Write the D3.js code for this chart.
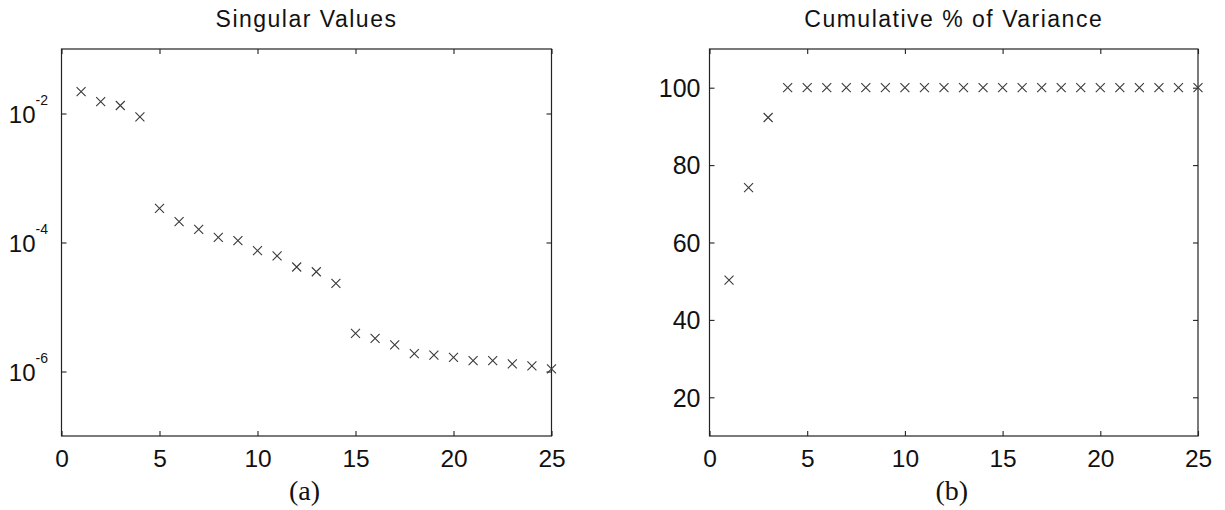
<!DOCTYPE html>
<html>
<head>
<meta charset="utf-8">
<script src="https://cdn.jsdelivr.net/npm/d3@7"></script>
<style>
  html, body { margin: 0; padding: 0; background: #fff; }
  svg { display: block; }
  text { font-family: "Liberation Sans", Arial, Helvetica, sans-serif; fill: #111; }
</style>
</head>
<body>
<svg id="chart" width="1225" height="510"></svg>
<script>
// ---------- data ----------
const components = d3.range(1, 26);
const singularValues = [
  2.18e-2, 1.525e-2, 1.33e-2, 8.83e-3,
  3.39e-4, 2.10e-4, 1.60e-4, 1.20e-4, 1.07e-4, 7.46e-5, 6.18e-5, 4.17e-5, 3.52e-5, 2.33e-5,
  3.91e-6, 3.27e-6, 2.58e-6, 1.89e-6, 1.80e-6, 1.66e-6, 1.47e-6, 1.47e-6, 1.31e-6, 1.22e-6, 1.10e-6
];
const cumulativeVariance = [
  50.3, 74.2, 92.3, 100, 100, 100, 100, 100, 100, 100, 100, 100, 100,
  100, 100, 100, 100, 100, 100, 100, 100, 100, 100, 100, 100
];
const xTicks = [0, 5, 10, 15, 20, 25];
const logTickExponents = [-2, -4, -6];
const linTicks = [20, 40, 60, 80, 100];
const titles = ["Singular Values", "Cumulative % of Variance"];
const captions = ["(a)", "(b)"];

// ---------- layout ----------
const svg = d3.select("#chart");
const plotTop = 49, plotBottom = 436;
const panels = [
  { x0: 61.5, x1: 551.5 },
  { x0: 709.5, x1: 1198 }
];
const TICK = 5;
const boxColor = "#222";
const markColor = "#3a3a3a";

function drawPanel(i, yScale, values, yTickVals, yLabelFn) {
  const p = panels[i];
  const x = d3.scaleLinear().domain([0, 25]).range([p.x0, p.x1]);
  const g = svg.append("g");

  const gb = g.append("g").attr("transform", `translate(0,${plotBottom})`)
    .call(d3.axisBottom(x).tickValues(xTicks).tickSizeInner(-TICK).tickSizeOuter(0).tickFormat(d3.format("d")));
  gb.selectAll("text").attr("y", 31).attr("dy", 0)
    .style("font-size", "24.5px").style("fill", "#111");
  const gt = g.append("g").attr("transform", `translate(0,${plotTop})`)
    .call(d3.axisTop(x).tickValues(xTicks).tickSizeInner(-TICK).tickSizeOuter(0).tickFormat(""));
  const gl = g.append("g").attr("transform", `translate(${p.x0},0)`)
    .call(d3.axisLeft(yScale).tickValues(yTickVals).tickSizeInner(-TICK).tickSizeOuter(0).tickFormat(""));
  const gr = g.append("g").attr("transform", `translate(${p.x1},0)`)
    .call(d3.axisRight(yScale).tickValues(yTickVals).tickSizeInner(-TICK).tickSizeOuter(0).tickFormat(""));

  [gb, gt, gl, gr].forEach(a => {
    a.select(".domain").remove();
    a.selectAll(".tick line").attr("stroke", boxColor).attr("stroke-width", 1.1);
  });

  gl.selectAll(".tick").each(function(d) {
    const t = d3.select(this).select("text").text(null)
      .attr("x", null).attr("dy", null);
    yLabelFn(t, d, p);
  });

  g.append("rect")
    .attr("x", p.x0).attr("y", plotTop)
    .attr("width", p.x1 - p.x0).attr("height", plotBottom - plotTop)
    .attr("fill", "none").attr("stroke", boxColor).attr("stroke-width", 1.2);

  const s = 4.5;
  g.append("g").selectAll("path").data(values).join("path")
    .attr("d", (v, j) => {
      const cx = x(components[j]), cy = yScale(v);
      return `M${cx - s},${cy - s}L${cx + s},${cy + s}M${cx - s},${cy + s}L${cx + s},${cy - s}`;
    })
    .attr("stroke", markColor).attr("stroke-width", 1.1).attr("fill", "none");

  svg.append("text")
    .attr("x", (p.x0 + p.x1) / 2).attr("y", 27)
    .attr("text-anchor", "middle")
    .style("font-size", "23px").style("letter-spacing", "1.5px")
    .text(titles[i]);

  svg.append("text")
    .attr("x", (p.x0 + p.x1) / 2 - 2).attr("y", 500)
    .attr("text-anchor", "middle")
    .style("font-family", "'Liberation Serif', 'Times New Roman', serif")
    .style("font-size", "28px")
    .text(captions[i]);
}

const yLog = d3.scaleLog().domain([1e-7, 1e-1]).range([plotBottom, plotTop]);
drawPanel(0, yLog, singularValues, logTickExponents.map(e => Math.pow(10, e)), (t, d, p) => {
  const e = Math.round(Math.log10(d));
  t.attr("text-anchor", "end").attr("x", -13.5).attr("y", 8.5)
    .style("fill", "#111");
  t.append("tspan").style("font-size", "24px").text("10");
  t.append("tspan").style("font-size", "14px").attr("dy", -17.5).text(String(e));
});

const yLin = d3.scaleLinear().domain([10, 110]).range([plotBottom, plotTop]);
drawPanel(1, yLin, cumulativeVariance, linTicks, (t, d, p) => {
  t.attr("text-anchor", "end").attr("x", -9).attr("y", 8.8)
    .style("font-size", "25px").style("fill", "#111")
    .text(d3.format("d")(d));
});
</script>
</body>
</html>
